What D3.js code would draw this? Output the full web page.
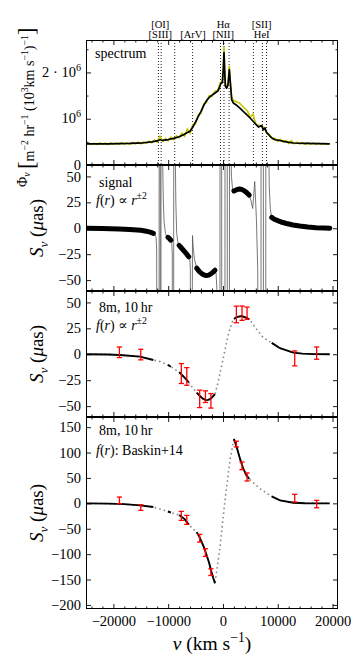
<!DOCTYPE html>
<html>
<head>
<meta charset="utf-8">
<title>spectroastrometry</title>
<script src="https://cdn.jsdelivr.net/npm/d3@7"></script>
<style>
body { margin: 0; background: #fff; }
text { font-family: "Liberation Serif", "DejaVu Serif", serif; fill: #000; }
</style>
</head>
<body>
<svg id="fig" width="360" height="663"></svg>
<script>
// velocities are km/s, spectrum in units of 1e6

// narrow lines marked in the spectrum panel
var lineV = [-11780, -11280, -8800, -5540, -450, 190, 1120, 5560, 7200, 7950];
var tagText = ["[OI]", "[SIII]", "[ArV]", "H\u03b1", "[NII]", "[SII]", "HeI"];
var tagV = [-11440, -11440, -5470, 60, 60, 7070, 7070];
var tagRow = [0, 1, 1, 0, 1, 0, 1];

// smoothed spectrum
var specV = [-25000,-21000,-17000,-14500,-13000,-12000,-11500,-11000,-10000,-9000,-8000,-7200,-6500,-6000,-5500,-5000,-4500,-4000,-3500,-3000,-2500,-2000,-1500,-900,-550,-350,-100,80,190,330,430,680,920,1050,1160,1300,1410,1590,1890,2500,3100,3700,4330,5000,5540,6000,6450,7070,7370,7670,7980,8300,8590,9000,9500,10350,11500,12800,15000,17500,19500];
var specFit = [0.455,0.458,0.465,0.48,0.50,0.52,0.545,0.53,0.55,0.575,0.61,0.655,0.70,0.73,0.82,0.93,1.05,1.16,1.29,1.39,1.46,1.51,1.55,1.60,1.70,1.77,1.78,2.1,2.43,2.0,1.70,1.66,1.73,1.9,2.06,1.85,1.70,1.41,1.34,1.29,1.23,1.16,1.09,1.01,0.94,0.88,0.82,0.85,0.76,0.80,0.70,0.66,0.62,0.58,0.545,0.53,0.50,0.475,0.465,0.46,0.458];

// raw (noisy) spectrum
var rawV = [-25000,-24500,-24000,-23500,-23000,-22500,-22000,-21500,-21000,-20500,
  -20000,-19500,-19000,-18500,-18000,-17500,-17000,-16500,-16000,-15500,
  -15000,-14500,-14000,-13500,-13000,-12500,-12000,-11500,-11000,-10500,
  -10000,-9500,-9000,-8500,-8000,-7500,-7000,-6500,-6000,-5500,
  -5000,-4500,-4000,-3500,-3000,-2500,-2000,-1500,-1000,-550,
  -300,-100,80,190,330,450,700,950,1160,1400,
  1600,2000,2500,3000,3500,4000,4500,5000,5500,6000,
  6500,7000,7500,8000,8500,9000,9500,10000,10500,11000,
  11500,12000,12500,13000,13500,14000,14500,15000,15500,16000,
  16500,17000,17500,18000,18500,19000,19500];
var raw = [0.44,0.472,0.446,0.468,0.44,0.475,0.448,0.47,0.442,0.476,
  0.45,0.474,0.445,0.48,0.452,0.478,0.448,0.486,0.455,0.494,
  0.46,0.50,0.468,0.515,0.48,0.54,0.498,0.62,0.51,0.57,
  0.525,0.60,0.55,0.63,0.585,0.69,0.62,0.78,0.69,0.87,
  0.89,1.09,1.12,1.32,1.35,1.50,1.48,1.59,1.61,1.76,
  1.79,1.84,2.15,2.55,2.0,1.72,1.70,1.80,2.15,1.68,
  1.47,1.39,1.36,1.34,1.28,1.22,1.16,1.03,1.10,0.88,
  0.86,0.84,0.81,0.69,0.66,0.57,0.575,0.51,0.555,0.495,
  0.53,0.468,0.525,0.458,0.492,0.45,0.485,0.448,0.482,0.45,
  0.476,0.446,0.474,0.445,0.47,0.443,0.462];

// channels free of narrow lines
var windows = [[-25000,-12700],[-10050,-9500],[-8000,-6250],[-4800,-1450],[2000,4800],[8900,19500]];

// full signal, micro-arcsec (diverges at the narrow lines)
var sigV = [-25000,-22000,-19000,-17000,-15000,-14000,-13300,-12700,-12400,-12200,-12100,-12050,
  -11660,-11640,-11460,-11440,-11320,-11300,-11100,-11000,-10900,-10750,-10500,-10300,
  -10050,-9800,-9500,-9350,-9250,-9200,-9000,-8980,-8800,-8700,-8600,-8450,-8250,
  -8000,-7500,-7000,-6600,-6250,-6050,-5950,-5900,-5700,-5560,-5400,-5200,
  -4800,-4300,-3800,-3300,-3000,-2600,-2200,-1800,-1450,-1250,-1100,-1050,
  -560,-520,-250,-210,350,390,770,810,1170,1210,1400,1550,1750,
  2000,2500,3000,3500,4000,4400,4800,5100,5430,5800,6100,6350,6450,
  6930,6970,7360,7400,7800,7840,8300,8450,8650,
  8900,9300,9800,10600,11600,12800,14000,15500,17000,18500,19500];
var sigS = [0,-0.3,-0.7,-1.2,-2.0,-2.8,-3.8,-5.0,-6.0,-9,-20,-300,
  -300,300,300,-300,-300,300,300,62,30,6,-5,-7.5,
  -8.7,-9.8,-11.5,-14,-25,-300,-300,300,300,70,25,-4,-13,
  -16.5,-19.5,-22.5,-25,-27.5,-29,-40,-300,-300,-7,-20,-30,
  -38.5,-41.8,-44,-45.3,-45.5,-45.2,-44,-42.3,-40.5,-44,-60,-300,
  -300,300,300,-300,-300,300,300,-300,-300,300,90,50,38,
  36,37.2,37.8,37.3,35.8,34,32,27,19,45,10,-40,-300,
  -300,300,300,-300,-300,300,120,40,18,
  10.5,9,7.8,6,4.6,3.2,2.2,1.3,0.6,0.2,0];

// fitted model, f(r) ~ r^(+-2)
var r2V = [-25000,-21000,-18800,-15150,-12700,-11500,-10050,-9500,-8000,-7000,-6250,-5500,-4800,-4200,-3600,-3100,-2700,-2300,-1900,-1450,-840,70,980,1600,2000,2500,3420,4330,4800,5060,6150,7370,8900,10410,12840,14500,16490,19500];
var r2S = [0,-0.3,-0.7,-2.3,-5.5,-7.1,-10.3,-12.0,-17.2,-22.5,-27,-32.5,-37,-40.3,-43,-44.2,-44,-43,-41,-38.5,-25.7,-3.2,19.2,30,34,35.9,36.8,35.2,33.5,32,24,16,11,5.8,1.6,0.6,0.1,0];

// fitted model, Baskin+14
var bkV = [-25000,-21000,-18000,-15150,-12700,-10050,-9500,-8000,-7000,-6250,-5500,-4800,-4300,-3880,-3400,-2970,-2500,-2180,-1800,-1450,-540,370,1280,2000,2500,3110,3710,4300,4800,5060,6760,8900,10410,12840,15000,19500];
var bkS = [0,-0.5,-1.5,-4,-7.3,-16,-18,-23,-31,-42,-50,-56.6,-66,-76.3,-88,-102.6,-118,-132,-146,-157.5,-86,6,84.8,127,111,88,68.2,55,48,45.4,28.8,13.7,5.9,1.2,0.3,0];

// simulated 8m / 10hr measurements
var obsV = [-18900,-15000,-7600,-6600,-4250,-3200,-2200,2450,3480,4400,13100,17100];
var r2Obs = [1.9,-0.3,-18.6,-21.4,-43,-40.9,-44.9,38.4,39.6,39.6,-4,1.1];
var r2Err = [5.1,5.1,9.6,8.5,8.4,5.6,7,8,6.9,5.9,7.2,5.9];
var bkObs = [5.8,-8.3,-24.7,-32.5,-68.7,-97,-135.5,116.7,73.9,51.9,10.2,-1.4];
var bkErr = [6.6,5.5,8.9,8.9,7.6,7.5,6.5,5.6,7.6,7.9,7.6,7.3];

var xMajor = [-20000,-10000,0,10000,20000];
var xMinor = [-24000,-22000,-18000,-16000,-14000,-12000,-8000,-6000,-4000,-2000,2000,4000,6000,8000,12000,14000,16000,18000];

var svg = d3.select("#fig");
var left = 86, right = 338, fs = 14.5;
var x = d3.scaleLinear().domain([-25000, 21000]).range([left, right]);

var panels = [
	{top: 40, bottom: 165, dom: [0, 2.7], major: [0, 1, 2], minor: [0.5, 1.5, 2.5]},
	{top: 165, bottom: 291, dom: [-60.5, 61], major: [-50, -25, 0, 25, 50], minor: []},
	{top: 291, bottom: 417, dom: [-60.5, 61], major: [-50, -25, 0, 25, 50], minor: []},
	{top: 417, bottom: 609, dom: [-208, 170], major: [-200, -150, -100, -50, 0, 50, 100, 150], minor: []}
];

var sup = function(t) { return {t: t, s: 0.7, r: 0.42}; };
var sub = function(t) { return {t: t, s: 0.7, r: -0.25, it: true}; };

// writes a list of styled pieces into a text element
var rich = function(sel, parts, size) {
	var rise = 0;
	parts.forEach(function(p) {
		var r = (p.r || 0) * size;
		var t = sel.append("tspan").text(p.t)
			.attr("dy", rise - r)
			.attr("font-size", (p.s || 1) * size);
		if (p.it) t.attr("font-style", "italic");
		rise = r;
	});
	return sel;
};

var label = function(px, py, parts, size, anchor) {
	var t = svg.append("text").attr("x", px).attr("y", py)
		.attr("font-size", size).attr("text-anchor", anchor || "start");
	return rich(t, parts, size);
};

var inside = function(v, arr, w) {
	var out = [];
	v.forEach(function(d, k) { if (d >= w[0] && d <= w[1]) out.push([d, arr[k]]); });
	return out;
};

panels.forEach(function(p, i) {
	p.y = d3.scaleLinear().domain(p.dom).range([p.bottom, p.top]);
	svg.append("clipPath").attr("id", "clip" + i).append("rect")
		.attr("x", left).attr("y", p.top).attr("width", right - left).attr("height", p.bottom - p.top);
	p.g = svg.append("g").attr("clip-path", "url(#clip" + i + ")");
	p.line = d3.line().x(function(d) { return x(d[0]); }).y(function(d) { return p.y(d[1]); });
});

// ---- spectrum ----
var p1 = panels[0];
p1.g.selectAll(".narrow").data(lineV).enter().append("line")
	.attr("x1", function(d) { return x(d); }).attr("x2", function(d) { return x(d); })
	.attr("y1", p1.top).attr("y2", p1.bottom)
	.attr("stroke", "#222").attr("stroke-width", 1).attr("stroke-dasharray", "1,2");
p1.g.append("path").attr("d", p1.line(rawV.map(function(v, k) { return [v, raw[k]]; })))
	.attr("fill", "none").attr("stroke", "#c8c800").attr("stroke-width", 1.6);
p1.g.append("path").attr("d", p1.line(specV.map(function(v, k) { return [v, specFit[k]]; })))
	.attr("fill", "none").attr("stroke", "#000").attr("stroke-width", 1.7).attr("stroke-linejoin", "round");
tagText.forEach(function(t, k) {
	label(x(tagV[k]), tagRow[k] ? 37.5 : 27.5, [{t: t}], 10.5, "middle");
});
label(95, 58, [{t: "spectrum"}], 14);

// ---- signal ----
var p2 = panels[1];
p2.g.append("path").attr("d", p2.line(sigV.map(function(v, k) { return [v, sigS[k]]; })))
	.attr("fill", "none").attr("stroke", "#555").attr("stroke-width", 0.8);
windows.forEach(function(w) {
	p2.g.append("path").attr("d", p2.line(inside(sigV, sigS, w)))
		.attr("fill", "none").attr("stroke", "#000").attr("stroke-width", 5)
		.attr("stroke-linecap", "round").attr("stroke-linejoin", "round");
});
label(99, 187, [{t: "signal"}], 14);
var fr = [{t: "f", it: true}, {t: "("}, {t: "r", it: true}, {t: ") \u221d "}, {t: "r", it: true}, sup("\u00b12")];
label(96, 205, fr, 14);

// ---- fitted models with mock data ----
var modelPanel = function(p, mv, ms, ov, oe) {
	p.g.append("path").attr("d", p.line(mv.map(function(v, k) { return [v, ms[k]]; })))
		.attr("fill", "none").attr("stroke", "#8a8a8a").attr("stroke-width", 1.6)
		.attr("stroke-dasharray", "1.6,3");
	windows.forEach(function(w) {
		p.g.append("path").attr("d", p.line(inside(mv, ms, w)))
			.attr("fill", "none").attr("stroke", "#000").attr("stroke-width", 1.9);
	});
	var bars = p.g.append("g").attr("stroke", "#ff0000").attr("stroke-width", 1.3);
	obsV.forEach(function(v, k) {
		var cx = x(v), lo = p.y(ov[k] - oe[k]), hi = p.y(ov[k] + oe[k]);
		bars.append("line").attr("x1", cx).attr("x2", cx).attr("y1", lo).attr("y2", hi);
		bars.append("line").attr("x1", cx - 2.6).attr("x2", cx + 2.6).attr("y1", lo).attr("y2", lo);
		bars.append("line").attr("x1", cx - 2.6).attr("x2", cx + 2.6).attr("y1", hi).attr("y2", hi);
	});
};
modelPanel(panels[2], r2V, r2S, r2Obs, r2Err);
modelPanel(panels[3], bkV, bkS, bkObs, bkErr);
label(99, 312, [{t: "8m, 10\u2009hr"}], 14);
label(96, 330, fr, 14);
label(99, 435, [{t: "8m, 10\u2009hr"}], 14);
label(96, 455, [{t: "f", it: true}, {t: "("}, {t: "r", it: true}, {t: "): Baskin+14"}], 14);

// ---- frames and ticks ----
var put = function(axis, tx, ty) {
	var g = svg.append("g").attr("transform", "translate(" + tx + "," + ty + ")").call(axis);
	g.select(".domain").remove();
	g.attr("font-family", null).attr("font-size", fs);
	g.selectAll("line").attr("stroke-width", 0.9);
	return g;
};

panels.forEach(function(p, i) {
	var last = i === panels.length - 1;
	put(d3.axisTop(x).tickValues(xMajor).tickSize(-5).tickFormat(""), 0, p.top);
	put(d3.axisTop(x).tickValues(xMinor).tickSize(-2.5).tickFormat(""), 0, p.top);
	put(d3.axisBottom(x).tickValues(xMajor).tickSize(-5).tickPadding(7)
		.tickFormat(last ? d3.format("d") : ""), 0, p.bottom);
	put(d3.axisBottom(x).tickValues(xMinor).tickSize(-2.5).tickFormat(""), 0, p.bottom);

	var fmt = i === 0 ? "" : d3.format("d");
	put(d3.axisLeft(p.y).tickValues(p.major).tickSize(-5).tickPadding(5).tickFormat(fmt), left, 0);
	put(d3.axisRight(p.y).tickValues(p.major).tickSize(-5).tickFormat(""), right, 0);
	if (p.minor.length) {
		put(d3.axisLeft(p.y).tickValues(p.minor).tickSize(-2.5).tickFormat(""), left, 0);
		put(d3.axisRight(p.y).tickValues(p.minor).tickSize(-2.5).tickFormat(""), right, 0);
	}
	svg.append("rect").attr("x", left + 0.5).attr("y", p.top + 0.5)
		.attr("width", right - left - 1).attr("height", p.bottom - p.top - 1)
		.attr("fill", "none").attr("stroke", "#000").attr("stroke-width", 1);
});

// spectrum tick labels
var specTick = [0, 1, 2];
var specTickText = [[{t: "0"}], [{t: "10"}, sup("6")], [{t: "2 \u00b7 10"}, sup("6")]];
specTick.forEach(function(v, k) {
	label(81, p1.y(v) + 4.5, specTickText[k], fs, "end");
});

// ---- axis titles ----
label((left + right) / 2, 650, [{t: "v", it: true}, {t: " (km s"}, sup("\u22121"), {t: ")"}], 19.5, "middle");

var svLabel = [{t: "S", it: true}, sub("v"), {t: " ("}, {t: "\u03bc", it: true}, {t: "as)"}];
panels.slice(1).forEach(function(p) {
	var cy = (p.top + p.bottom) / 2;
	label(43, cy, svLabel, 19, "middle").attr("transform", "rotate(-90,43," + cy + ")");
});

// rotated text starts at the bottom and reads upward
var phiLabel = [{t: "\u03a6", r: 0.5}, {t: "v", s: 0.7, r: 0.3, it: true}, {t: " "},
	{t: "[", s: 1.6}, {t: "m"}, sup("\u22122"), {t: " hr"}, sup("\u22121"), {t: " (10"}, sup("3"),
	{t: "km s"}, sup("\u22121"), {t: ")"}, sup("\u22121"), {t: "]", s: 1.6}];
label(34, 187, phiLabel, 14, "start").attr("transform", "rotate(-90,34,187)");
</script>
</body>
</html>
